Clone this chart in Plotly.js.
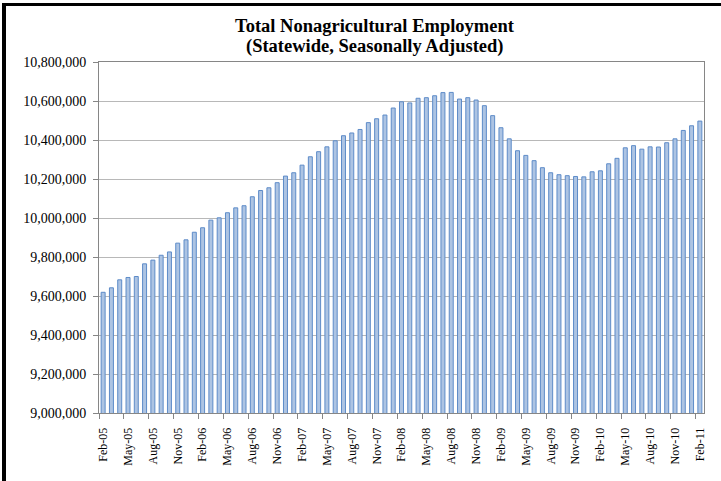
<!DOCTYPE html>
<html>
<head>
<meta charset="utf-8">
<script src="https://cdn.plot.ly/plotly-3.0.1.min.js"></script>
<style>
  html, body { margin: 0; padding: 0; background: #fff; overflow: hidden; }
  #chart { width: 721px; height: 481px; }
</style>
</head>
<body>
<div id="chart"></div>
<script>
const months = [
  "Feb-05","Mar-05","Apr-05","May-05","Jun-05","Jul-05","Aug-05","Sep-05","Oct-05","Nov-05","Dec-05",
  "Jan-06","Feb-06","Mar-06","Apr-06","May-06","Jun-06","Jul-06","Aug-06","Sep-06","Oct-06","Nov-06","Dec-06",
  "Jan-07","Feb-07","Mar-07","Apr-07","May-07","Jun-07","Jul-07","Aug-07","Sep-07","Oct-07","Nov-07","Dec-07",
  "Jan-08","Feb-08","Mar-08","Apr-08","May-08","Jun-08","Jul-08","Aug-08","Sep-08","Oct-08","Nov-08","Dec-08",
  "Jan-09","Feb-09","Mar-09","Apr-09","May-09","Jun-09","Jul-09","Aug-09","Sep-09","Oct-09","Nov-09","Dec-09",
  "Jan-10","Feb-10","Mar-10","Apr-10","May-10","Jun-10","Jul-10","Aug-10","Sep-10","Oct-10","Nov-10","Dec-10",
  "Jan-11","Feb-11"
];

const employment = [
  9619000, 9642000, 9683000, 9695000, 9700000, 9765000, 9784000, 9809000, 9826000, 9871000, 9888000,
  9927000, 9950000, 9989000, 10001000, 10027000, 10052000, 10063000, 10109000, 10141000, 10155000, 10181000, 10215000,
  10232000, 10271000, 10314000, 10340000, 10365000, 10396000, 10422000, 10436000, 10454000, 10489000, 10509000, 10528000,
  10564000, 10596000, 10590000, 10614000, 10617000, 10627000, 10643000, 10644000, 10610000, 10617000, 10605000, 10576000,
  10525000, 10463000, 10406000, 10345000, 10321000, 10294000, 10258000, 10232000, 10222000, 10217000, 10213000, 10211000,
  10237000, 10242000, 10278000, 10306000, 10360000, 10371000, 10353000, 10365000, 10364000, 10386000, 10406000, 10449000,
  10473000, 10497000
];

const titleLines = ["Total Nonagricultural Employment", "(Statewide, Seasonally Adjusted)"];

const serif = 'Liberation Serif, Times New Roman, serif';

const trace = {
  type: 'bar',
  x: months,
  y: employment,
  marker: { color: '#adc4e3', line: { color: '#5d8bc8', width: 1 } },
  hoverinfo: 'x+y'
};

const titleFont = { family: serif, size: 18.5, color: '#000000', weight: 'bold' };

const layout = {
  width: 721,
  height: 481,
  margin: { l: 99, r: 17, t: 62, b: 68, pad: 0 },
  paper_bgcolor: '#ffffff',
  plot_bgcolor: '#ffffff',
  showlegend: false,
  bargap: 0.52,
  font: { family: serif, color: '#000000' },
  annotations: [
    { text: '<b>' + titleLines[0] + '</b>', font: titleFont, showarrow: false,
      xref: 'paper', yref: 'paper', x: 0.456, y: 1.1026, xanchor: 'center', yanchor: 'middle' },
    { text: '<b>' + titleLines[1] + '</b>', font: titleFont, showarrow: false,
      xref: 'paper', yref: 'paper', x: 0.456, y: 1.0442, xanchor: 'center', yanchor: 'middle' }
  ],
  shapes: [
    { type: 'rect', xref: 'paper', yref: 'paper', x0: -0.16033, x1: -0.15372, y0: -0.1937, y1: 1.1681,
      fillcolor: '#000000', line: { width: 0 }, layer: 'above' },
    { type: 'rect', xref: 'paper', yref: 'paper', x0: -0.16033, x1: 1.0281, y0: 1.1595, y1: 1.1681,
      fillcolor: '#000000', line: { width: 0 }, layer: 'above' }
  ],
  xaxis: {
    type: 'category',
    tickmode: 'linear',
    tick0: 0,
    dtick: 3,
    tickson: 'boundaries',
    tickangle: -90,
    ticks: 'outside',
    ticklen: 5,
    tickcolor: '#868686',
    tickfont: { family: serif, size: 12, color: '#000000' },
    ticklabelstandoff: 9,
    showline: true,
    linecolor: '#868686',
    linewidth: 1,
    mirror: true,
    showgrid: false,
    zeroline: false,
    fixedrange: true
  },
  yaxis: {
    range: [9000000, 10800000],
    tickmode: 'linear',
    tick0: 9000000,
    dtick: 200000,
    tickformat: ',d',
    ticks: 'outside',
    ticklen: 5,
    tickcolor: '#868686',
    tickfont: { family: serif, size: 14, color: '#000000' },
    ticklabelstandoff: 4,
    showline: true,
    linecolor: '#868686',
    linewidth: 1,
    mirror: true,
    showgrid: true,
    gridcolor: '#b8b8b8',
    gridwidth: 1,
    zeroline: false,
    fixedrange: true
  }
};

Plotly.newPlot('chart', [trace], layout, { displayModeBar: false, staticPlot: true });
</script>
</body>
</html>
